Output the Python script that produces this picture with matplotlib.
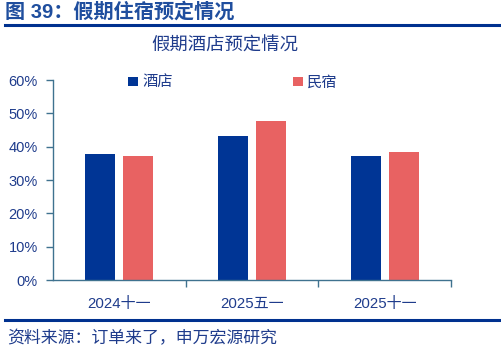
import matplotlib.pyplot as plt
import numpy as np

plt.rcParams['font.family'] = ['Liberation Sans', 'Noto Sans CJK SC', 'DejaVu Sans']

categories = ['2024十一', '2025五一', '2025十一']
hotel = [37.8, 43.2, 37.1]
homestay = [37.2, 47.7, 38.5]
series_names = ['酒店', '民宿']

blue = '#003595'
red = '#E86262'
navy = '#1F3C8C'
axis_col = '#3F728F'

W, H = 501, 354
fig = plt.figure(figsize=(W / 100, H / 100), dpi=100)

# header and footer
fig.text(5 / W, 1 - 12 / H, '图 39：假期住宿预定情况', fontsize=14.5, fontweight='bold',
         color='#1F4E9E', va='center', ha='left')
fig.add_artist(plt.Line2D([5 / W, 1], [1 - 25 / H, 1 - 25 / H], color='#00318F', lw=2.2))
fig.add_artist(plt.Line2D([5 / W, 1], [1 - 320 / H, 1 - 320 / H], color='#00318F', lw=2.2))
fig.text(7 / W, 1 - 338 / H, '资料来源：订单来了，申万宏源研究', fontsize=12.2,
         color=navy, va='center', ha='left')

ax = fig.add_axes([53 / W, 1 - 280 / H, (451 - 53) / W, 200 / H])
x = np.arange(len(categories))
w = 0.226
gap = 0.06
ax.bar(x - (w + gap) / 2, hotel, w, color=blue, label=series_names[0])
ax.bar(x + (w + gap) / 2, homestay, w, color=red, label=series_names[1])

ax.set_xlim(-0.5, 2.5)
ax.set_ylim(0, 60)
ax.set_yticks(np.arange(0, 61, 10))
ax.set_yticklabels(['%d%%' % v for v in range(0, 61, 10)])
ax.set_xticks(x)
ax.set_xticklabels(categories)
ax.set_xticks([0.5, 1.5, 2.5], minor=True)
ax.tick_params(axis='x', which='major', length=0, pad=12, labelsize=10.8, labelcolor=navy)
ax.tick_params(axis='x', which='minor', length=5, color=axis_col, width=1)
ax.tick_params(axis='y', length=5, color=axis_col, width=1, labelsize=10.5,
               labelcolor=navy, pad=6)
for s in ['top', 'right']:
    ax.spines[s].set_visible(False)
for s in ['left', 'bottom']:
    ax.spines[s].set_color(axis_col)
    ax.spines[s].set_linewidth(1)

fig.text(225 / W, 1 - 46 / H, '假期酒店预定情况', fontsize=13.2, color=navy,
         ha='center', va='center')
ax.legend(loc='upper left', bbox_to_anchor=(0.155, 1.09), ncol=2, frameon=False,
          fontsize=11, labelcolor=navy, handlelength=0.6, handleheight=0.6,
          handletextpad=0.3, columnspacing=7.9)

fig.savefig('out.png', dpi=100)
